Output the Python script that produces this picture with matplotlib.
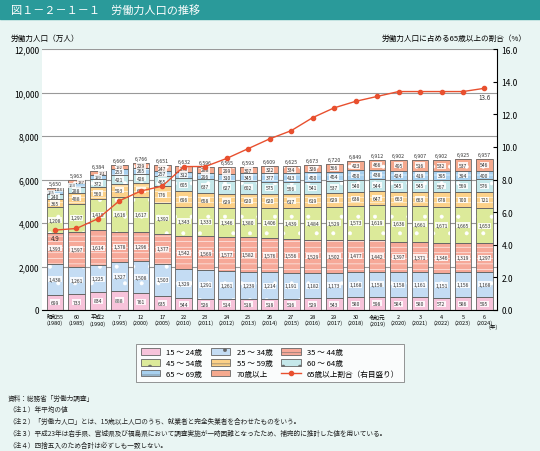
import numpy as np
import matplotlib.pyplot as plt
import matplotlib.patches as mpatches
from matplotlib.lines import Line2D

plt.rcParams['font.family'] = ['Noto Sans CJK JP', 'DejaVu Sans']
plt.rcParams['hatch.linewidth'] = 0.4

years = ['昭和55\n(1980)', '60\n(1985)', '平成2\n(1990)', '7\n(1995)', '12\n(2000)', '17\n(2005)',
         '22\n(2010)', '23\n(2011)', '24\n(2012)', '25\n(2013)', '26\n(2014)', '27\n(2015)',
         '28\n(2016)', '29\n(2017)', '30\n(2018)', '令和元\n(2019)', '2\n(2020)', '3\n(2021)',
         '4\n(2022)', '5\n(2023)', '6\n(2024)']
age_labels = ['15 ～ 24歳', '25 ～ 34歳', '35 ～ 44歳', '45 ～ 54歳', '55 ～ 59歳', '60 ～ 64歳', '65 ～ 69歳', '70歳以上']

a15_24 = [699, 733, 834, 888, 761, 635, 544, 526, 514, 518, 518, 516, 529, 543, 580, 598, 584, 580, 572, 586, 595]
a25_34 = [1438, 1261, 1225, 1327, 1508, 1503, 1329, 1291, 1261, 1239, 1214, 1191, 1182, 1173, 1168, 1158, 1158, 1161, 1151, 1156, 1168]
a35_44 = [1393, 1597, 1614, 1378, 1296, 1377, 1542, 1569, 1577, 1582, 1576, 1556, 1529, 1502, 1477, 1442, 1397, 1371, 1346, 1319, 1297]
a45_54 = [1208, 1297, 1418, 1616, 1617, 1392, 1343, 1333, 1346, 1380, 1406, 1439, 1484, 1529, 1573, 1619, 1636, 1661, 1671, 1665, 1653]
a55_59 = [365, 488, 560, 593, 666, 776, 696, 658, 629, 620, 620, 617, 619, 629, 638, 647, 663, 663, 678, 700, 721]
a60_64 = [240, 288, 372, 421, 426, 465, 605, 637, 627, 602, 575, 556, 541, 537, 540, 544, 545, 545, 567, 569, 576]
a65_69 = [165, 163, 199, 253, 265, 257, 312, 296, 310, 345, 377, 413, 450, 454, 450, 438, 424, 419, 395, 394, 400]
a70 = [114, 137, 161, 192, 229, 247, 273, 288, 299, 307, 322, 334, 326, 366, 423, 466, 495, 516, 532, 537, 546]
totals = [5650, 5963, 6384, 6666, 6766, 6651, 6632, 6596, 6565, 6593, 6609, 6625, 6673, 6720, 6849, 6912, 6902, 6907, 6902, 6925, 6957]
share65 = [4.9, 5.0, 5.6, 6.7, 7.3, 7.6, 8.8, 8.8, 9.3, 9.9, 10.5, 11.0, 11.8, 12.4, 12.8, 13.1, 13.4, 13.4, 13.4, 13.4, 13.6]

series = [a15_24, a25_34, a35_44, a45_54, a55_59, a60_64, a65_69, a70]
colors = ['#f7c3da', '#c4dcf3', '#f6a898', '#dcea9a', '#fcd188', '#c5e8ea', '#a7d0ef', '#f5a98e']
hatches = [None, '.', '---', '.', '---', '.', '---', '.']

bg = '#e9f5f3'
fig = plt.figure(figsize=(5.4, 4.52), dpi=100, facecolor=bg)
ax = fig.add_axes([0.078, 0.312, 0.843, 0.577])
ax.set_facecolor('white')

x = np.arange(len(years))
w = 0.78
bottom = np.zeros(len(years))
for k, (vals, c, h) in enumerate(zip(series, colors, hatches)):
    vals = np.array(vals)
    ax.bar(x, vals, w, bottom=bottom, color=c, hatch=h, edgecolor='white', linewidth=0, zorder=2)
    ax.bar(x, vals, w, bottom=bottom, fill=False, edgecolor='#666666', linewidth=0.6, zorder=3)
    for xi, b, v in zip(x, bottom, vals):
        dx = 0.0
        if v < 180:
            dx = -0.2 if k == 6 else 0.2
        ax.text(xi + dx, b + v / 2, f'{v:,}', ha='center', va='center',
                fontsize=3.0 if v < 200 else 3.6, color='#333333', zorder=5,
                bbox=dict(boxstyle='square,pad=0.1', fc='white', ec='none', alpha=0.85))
    bottom += vals
for xi, b, t in zip(x, bottom, totals):
    ax.text(xi, b + 90, f'{t:,}', ha='center', va='bottom', fontsize=3.8, color='#333333', zorder=5)

ax.set_ylim(0, 12000)
ax.set_xlim(-0.6, len(years) - 0.4)
ax.set_yticks(range(0, 12001, 2000))
ax.set_yticklabels([f'{v:,}' for v in range(0, 12001, 2000)], fontsize=6)
ax.grid(axis='y', color='#999999', linewidth=0.8, zorder=0)
ax.set_xticks(x)
ax.set_xticklabels(years, fontsize=4)
ax.tick_params(axis='x', length=0, pad=3)
ax.tick_params(axis='y', length=0, pad=2)
for s in ['top', 'right', 'left']:
    ax.spines[s].set_visible(False)

ax2 = ax.twinx()
ax2.plot(x, share65, color='#e8502f', marker='o', markersize=3, linewidth=1, zorder=6)
ax2.set_ylim(0, 16)
ax2.set_yticks(np.arange(0, 16.1, 2))
ax2.set_yticklabels([f'{v:.1f}' for v in np.arange(0, 16.1, 2)], fontsize=6)
ax2.tick_params(axis='y', length=3, direction='in', pad=3)
for s in ['top', 'left', 'bottom']:
    ax2.spines[s].set_visible(False)
ax2.text(x[0], share65[0] - 0.25, f'{share65[0]}', ha='center', va='top', fontsize=4.5, color='#333333')
ax2.text(x[-1], share65[-1] - 0.3, f'{share65[-1]}', ha='center', va='top', fontsize=4.5, color='#333333')
fig.text(0.905, 0.282, '(年)', fontsize=4, va='top')

# title and axis captions
fig.patches.append(mpatches.Rectangle((0, 0.955), 1, 0.045, transform=fig.transFigure, color='#2a9a9a'))
fig.text(0.02, 0.977, '図１－２－１－１　労働力人口の推移', fontsize=8, color='white', va='center')
fig.text(0.02, 0.915, '労働力人口（万人）', fontsize=5.5, va='center')
fig.text(0.975, 0.915, '労働力人口に占める65歳以上の割合（%）', fontsize=5.5, va='center', ha='right')

# legend
handles = [mpatches.Patch(facecolor=colors[i], hatch=hatches[i], edgecolor='#666666', linewidth=0.6) for i in range(8)]
labels = list(age_labels)
handles.append(Line2D([0], [0], color='#e8502f', marker='o', markersize=3, linewidth=1))
labels.append('65歳以上割合（右目盛り）')
rows = [[0, 1, 2], [3, 4, 5], [6, 7, 8]]
colmajor = [rows[r][c] for c in range(3) for r in range(3)]
leg = fig.legend([handles[i] for i in colmajor], [labels[i] for i in colmajor], ncol=3,
                 loc='center', bbox_to_anchor=(0.5, 0.195), fontsize=5.5, frameon=True,
                 fancybox=False, edgecolor='#666666', handlelength=2.5, handleheight=1.0,
                 columnspacing=1.2, labelspacing=0.35, borderpad=0.6)
leg.get_frame().set_linewidth(0.6)

notes = ['資料：総務省「労働力調査」',
         '（注１）年平均の値',
         '（注２）「労働力人口」とは、15歳以上人口のうち、就業者と完全失業者を合わせたものをいう。',
         '（注３）平成23年は岩手県、宮城県及び福島県において調査実施が一時困難となったため、補完的に推計した値を用いている。',
         '（注４）四捨五入のため合計は必ずしも一致しない。']
for i, n in enumerate(notes):
    fig.text(0.015, 0.118 - i * 0.026, n, fontsize=4.8, va='center', color='#222222')

fig.savefig('out.png', dpi=100, facecolor=bg)
